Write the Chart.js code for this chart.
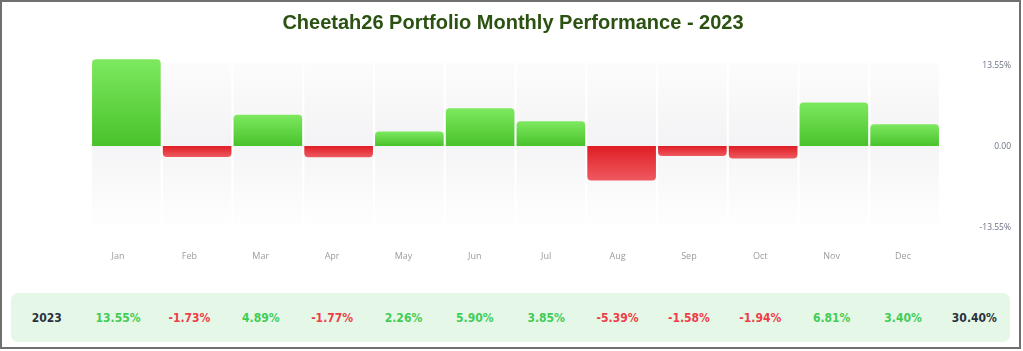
<!DOCTYPE html>
<html lang="en">
<head>
    <meta charset="UTF-8">
    <title>Cheetah26 Portfolio Monthly Performance - 2023</title>
    <script src="https://cdn.jsdelivr.net/npm/chart.js"></script>
    <style>
        html, body {
            margin: 0;
            padding: 0;
            background: #fff;
        }
        .frame {
            position: absolute;
            left: 0;
            top: 0;
            width: 1021px;
            height: 349px;
            box-sizing: border-box;
            border: 2px solid #707070;
            overflow: hidden;
        }
        .title {
            position: absolute;
            left: 0;
            top: 11px;
            width: 1026px;
            text-align: center;
            font-family: "Liberation Sans", Arial, sans-serif;
            font-weight: bold;
            font-size: 20px;
            color: #2b5212;
            margin: 0;
        }
        #chart-wrap {
            position: absolute;
            left: 0;
            top: 0;
            width: 1023px;
            height: 280px;
        }
        .year-row {
            position: absolute;
            left: 11px;
            top: 293px;
            width: 999px;
            height: 49px;
            background: #e5f8e7;
            border-radius: 7px;
            display: flex;
            align-items: center;
        }
        .year-row span {
            flex: 1 1 0;
            text-align: center;
            font-family: "DejaVu Sans Condensed", "DejaVu Sans", sans-serif;
            font-weight: bold;
            font-size: 12px;
        }
        .pos { color: #42cc55; }
        .neg { color: #f03c48; }
        .dark { color: #2a3140; }
    </style>
</head>
<body>

<div class="frame"></div>
<div id="chart-wrap"><canvas id="perf-chart"></canvas></div>
<h1 class="title">Cheetah26 Portfolio Monthly Performance - 2023</h1>
<div class="year-row" id="year-row"></div>

<script>
    // données
    const months = ['Jan', 'Feb', 'Mar', 'Apr', 'May', 'Jun', 'Jul', 'Aug', 'Sep', 'Oct', 'Nov', 'Dec'];
    const returns2023 = [13.55, -1.73, 4.89, -1.77, 2.26, 5.90, 3.85, -5.39, -1.58, -1.94, 6.81, 3.40];
    const yearLabel = '2023';
    const yearTotal = 30.40;
    const bandRange = [-12.3, 13.0];
    const yTickValues = [-13.55, 0, 13.55];
    const yTickLabels = ['-13.55%', '0.00', '13.55%'];

    // tableau du bas
    const row = document.getElementById('year-row');
    row.innerHTML = `<span class="dark">${yearLabel}</span>`;
    returns2023.forEach(v => {
        row.innerHTML += `<span class="${v >= 0 ? 'pos' : 'neg'}">${v.toFixed(2)}%</span>`;
    });
    row.innerHTML += `<span class="dark">${yearTotal.toFixed(2)}%</span>`;

    function barGradient(ctx) {
        const chart = ctx.chart;
        const y = chart.scales.y;
        if (!chart.chartArea || !y) return returns2023[ctx.dataIndex] >= 0 ? '#5fd63f' : '#e63a3f';
        const v = returns2023[ctx.dataIndex];
        const p0 = y.getPixelForValue(0);
        const p1 = y.getPixelForValue(v);
        const g = chart.ctx.createLinearGradient(0, Math.min(p0, p1), 0, Math.max(p0, p1) + 0.01);
        if (v >= 0) {
            g.addColorStop(0, '#7de95f');
            g.addColorStop(1, '#49c22b');
        } else {
            g.addColorStop(0, '#e01d24');
            g.addColorStop(1, '#ee5a60');
        }
        return g;
    }

    function bandGradient(ctx) {
        const chart = ctx.chart;
        const y = chart.scales.y;
        if (!chart.chartArea || !y) return '#f6f6f8';
        const top = y.getPixelForValue(bandRange[1]);
        const bottom = y.getPixelForValue(bandRange[0]);
        const zero = y.getPixelForValue(0);
        const z = (zero - top) / (bottom - top);
        const g = chart.ctx.createLinearGradient(0, top, 0, bottom);
        g.addColorStop(0, '#fcfcfc');
        g.addColorStop(z - 0.001, '#f3f3f5');
        g.addColorStop(z, '#f5f5f7');
        g.addColorStop(1, '#fefefe');
        return g;
    }

    const ctx = document.getElementById('perf-chart').getContext('2d');
    new Chart(ctx, {
        type: 'bar',
        data: {
            labels: months,
            datasets: [{
                label: 'Performance 2023',
                data: returns2023,
                backgroundColor: barGradient,
                borderRadius: 4,
                borderSkipped: 'start',
                barPercentage: 0.97,
                categoryPercentage: 1,
                grouped: false,
                order: 1
            }, {
                label: 'band',
                data: months.map(() => bandRange),
                backgroundColor: bandGradient,
                borderSkipped: false,
                barPercentage: 0.97,
                categoryPercentage: 1,
                grouped: false,
                order: 2
            }]
        },
        options: {
            responsive: true,
            maintainAspectRatio: false,
            animation: false,
            layout: {
                padding: { left: 91, right: 12, top: 50, bottom: 0 }
            },
            plugins: {
                legend: { display: false },
                tooltip: { enabled: false }
            },
            scales: {
                x: {
                    display: false,
                    offset: true
                },
                // étiquettes des mois alignées sur le tableau du bas
                xLabels: {
                    type: 'linear',
                    position: 'bottom',
                    offset: false,
                    min: -0.378,
                    max: 11.518,
                    grid: { display: false, drawTicks: false },
                    border: { display: false },
                    afterBuildTicks: axis => {
                        axis.ticks = months.map((m, i) => ({ value: i }));
                    },
                    afterFit: axis => { axis.height = 38; },
                    ticks: {
                        padding: 9,
                        autoSkip: false,
                        maxRotation: 0,
                        color: '#9b9b9b',
                        font: { family: 'Open Sans', size: 9 },
                        callback: v => months[v]
                    }
                },
                y: {
                    display: false,
                    min: -15,
                    max: 15
                },
                yLabels: {
                    position: 'right',
                    offset: false,
                    min: -15.9,
                    max: 16.22,
                    grid: { display: false, drawTicks: false },
                    border: { display: false },
                    afterBuildTicks: axis => {
                        axis.ticks = yTickValues.map(v => ({ value: v }));
                    },
                    afterFit: axis => { axis.width = 71; },
                    ticks: {
                        crossAlign: 'far',
                        padding: 0,
                        color: '#6c7282',
                        font: { family: 'Open Sans', size: 8.5 },
                        callback: (v, i) => yTickLabels[i]
                    }
                }
            }
        }
    });
</script>

</body>
</html>
